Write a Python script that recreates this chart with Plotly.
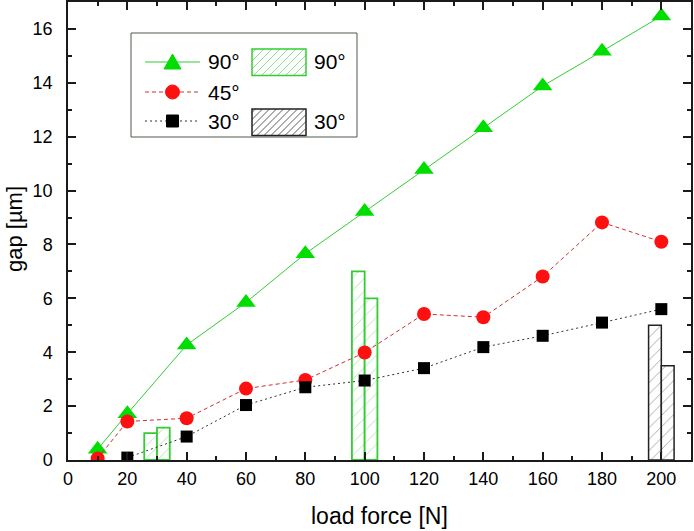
import plotly.graph_objects as go

# ---------------- data ----------------
force_90 = [10, 20, 40, 60, 80, 100, 120, 140, 160, 180, 200]
gap_90 = [0.40, 1.72, 4.27, 5.85, 7.66, 9.22, 10.78, 12.33, 13.88, 15.17, 16.48]

force_45 = [10, 20, 40, 60, 80, 100, 120, 140, 160, 180, 200]
gap_45 = [0.06, 1.43, 1.55, 2.65, 2.97, 3.99, 5.42, 5.30, 6.81, 8.82, 8.10]

force_30 = [20, 40, 60, 80, 100, 120, 140, 160, 180, 200]
gap_30 = [0.09, 0.87, 2.04, 2.70, 2.95, 3.41, 4.19, 4.61, 5.10, 5.60]

bar90_force = [30, 30, 100, 100]
bar90_gap = [1.0, 1.2, 7.0, 6.0]
bar90_side = [-1, 0, -1, 0]          # left / right bar of each pair

bar30_force = [200, 200]
bar30_gap = [5.0, 3.5]
bar30_side = [-1, 0]

x_ticks = [0, 20, 40, 60, 80, 100, 120, 140, 160, 180, 200]
y_ticks = [0, 2, 4, 6, 8, 10, 12, 14, 16]

# ---------------- styling ----------------
GREEN_M = "#00dd00"
GREEN_L = "#33cc33"
RED_M = "#ff1010"
RED_L = "#cc3030"
BLACK = "#000000"
AX = "#1a1a1a"
FONT = "Arial, Liberation Sans, sans-serif"
BAR_W = 4.3

W, H = 694, 531
PL, PR, PT, PB = 68, 691, 2, 460


def px(x):
    return (x - PL) / (PR - PL)


def py(y):
    return (PB - y) / (PB - PT)


fig = go.Figure()

fig.add_trace(go.Bar(
    x=bar90_force, y=bar90_gap, width=BAR_W,
    offset=[s * BAR_W for s in bar90_side],
    marker=dict(color="white",
                line=dict(color=GREEN_L, width=1.8),
                pattern=dict(shape="/", fgcolor="#55d055", bgcolor="white",
                             size=9, solidity=0.1)),
    showlegend=False, name="90° bars"))

fig.add_trace(go.Bar(
    x=bar30_force, y=bar30_gap, width=BAR_W,
    offset=[s * BAR_W for s in bar30_side],
    marker=dict(color="white",
                line=dict(color="#222222", width=1.5),
                pattern=dict(shape="/", fgcolor="#333333", bgcolor="white",
                             size=8, solidity=0.1)),
    showlegend=False, name="30° bars"))

fig.add_trace(go.Scatter(
    x=force_90, y=gap_90, mode="lines+markers",
    line=dict(color=GREEN_L, width=1),
    marker=dict(symbol="triangle-up", size=17, color=GREEN_M),
    showlegend=False, name="90°"))

fig.add_trace(go.Scatter(
    x=force_45, y=gap_45, mode="lines+markers",
    line=dict(color=RED_L, width=1, dash="4px,3px"),
    marker=dict(symbol="circle", size=14, color=RED_M),
    showlegend=False, name="45°"))

fig.add_trace(go.Scatter(
    x=force_30, y=gap_30, mode="lines+markers",
    line=dict(color="#333333", width=1, dash="2px,3px"),
    marker=dict(symbol="square", size=12, color=BLACK),
    showlegend=False, name="30°"))

# ---------------- custom legend ----------------
shapes = []
annotations = []

shapes.append(dict(type="rect", xref="paper", yref="paper",
                   x0=px(131), x1=px(357), y0=py(137), y1=py(33),
                   line=dict(color="#4a5a4a", width=1), fillcolor="white",
                   layer="above"))


def hatch_path(x0, y0, x1, y1, step):
    parts = []
    c = x0 + y0 + step / 2
    while c < x1 + y1:
        xa = max(x0, c - y1)
        xb = min(x1, c - y0)
        if xb > xa:
            parts.append("M%.5f,%.5f L%.5f,%.5f" % (px(xa), py(c - xa), px(xb), py(c - xb)))
        c += step
    return " ".join(parts)


rows = [62, 92, 121]
line_x0, line_x1 = 145, 200
mcx = (line_x0 + line_x1) / 2

shapes.append(dict(type="line", xref="paper", yref="paper",
                   x0=px(line_x0), x1=px(line_x1), y0=py(rows[0]), y1=py(rows[0]),
                   line=dict(color=GREEN_L, width=1)))
cy = rows[0]
shapes.append(dict(type="path", xref="paper", yref="paper",
                   path="M%.5f,%.5f L%.5f,%.5f L%.5f,%.5f Z" % (
                       px(mcx - 8.5), py(cy + 7), px(mcx + 8.5), py(cy + 7), px(mcx), py(cy - 8)),
                   fillcolor=GREEN_M, line=dict(color=GREEN_M, width=1)))
shapes.append(dict(type="line", xref="paper", yref="paper",
                   x0=px(line_x0), x1=px(line_x1), y0=py(rows[1]), y1=py(rows[1]),
                   line=dict(color=RED_L, width=1, dash="4px,3px")))
cy = rows[1]
shapes.append(dict(type="circle", xref="paper", yref="paper",
                   x0=px(mcx - 7), x1=px(mcx + 7), y0=py(cy + 7), y1=py(cy - 7),
                   fillcolor=RED_M, line=dict(color=RED_M, width=1)))
shapes.append(dict(type="line", xref="paper", yref="paper",
                   x0=px(line_x0), x1=px(line_x1), y0=py(rows[2]), y1=py(rows[2]),
                   line=dict(color="#333333", width=1, dash="2px,3px")))
cy = rows[2]
shapes.append(dict(type="rect", xref="paper", yref="paper",
                   x0=px(mcx - 6), x1=px(mcx + 6), y0=py(cy + 6), y1=py(cy - 6),
                   fillcolor=BLACK, line=dict(color=BLACK, width=1)))

for (ry0, ry1, col, hcol, step) in [(49, 75.5, GREEN_L, "#66d866", 8),
                                     (109, 135.5, "#222222", "#333333", 7)]:
    shapes.append(dict(type="path", xref="paper", yref="paper",
                       path=hatch_path(252, ry0, 306, ry1, step),
                       line=dict(color=hcol, width=0.8)))
    shapes.append(dict(type="rect", xref="paper", yref="paper",
                       x0=px(252), x1=px(306), y0=py(ry1), y1=py(ry0),
                       line=dict(color=col, width=1.5)))

for (tx, ty, txt) in [(206, rows[0], "90°"), (206, rows[1], "45°"), (206, rows[2], "30°"),
                      (312, rows[0], "90°"), (312, rows[2], "30°")]:
    annotations.append(dict(xref="paper", yref="paper", x=px(tx), y=py(ty),
                            text=txt, showarrow=False, xanchor="left", yanchor="middle",
                            font=dict(family=FONT, size=21, color="black")))

# axis titles
annotations.append(dict(xref="paper", yref="paper", x=0.5, y=py(516),
                        text="load force [N]", showarrow=False,
                        xanchor="center", yanchor="middle",
                        font=dict(family=FONT, size=23, color="black")))
annotations.append(dict(xref="paper", yref="paper", x=px(14), y=py(229),
                        text="gap [µm]", showarrow=False, textangle=-90,
                        xanchor="center", yanchor="middle",
                        font=dict(family=FONT, size=22, color="black")))

axis_common = dict(
    showline=True, linecolor=AX, linewidth=1.5, mirror="allticks",
    ticks="inside", ticklen=8, tickwidth=1.5, tickcolor=AX,
    showgrid=False, zeroline=False, automargin=False,
    tickfont=dict(family=FONT, size=18, color="black"),
)

fig.update_layout(
    width=W, height=H,
    margin=dict(l=PL, r=W - PR, t=PT, b=H - PB, autoexpand=False),
    plot_bgcolor="white", paper_bgcolor="white",
    font=dict(family=FONT, color="black"),
    showlegend=False,
    barmode="overlay",
    xaxis=dict(range=[0, 210], tickmode="array", tickvals=x_ticks,
               minor=dict(dtick=10, ticks="inside", ticklen=4, tickwidth=1.5, tickcolor=AX),
               ticklabelstandoff=2,
               **axis_common),
    yaxis=dict(range=[0, 17], tickmode="array", tickvals=y_ticks,
               minor=dict(dtick=1, ticks="inside", ticklen=4, tickwidth=1.5, tickcolor=AX),
               ticklabelstandoff=10,
               **axis_common),
    shapes=shapes,
    annotations=annotations,
)

fig.write_html(
    "out.html",
    config={"displayModeBar": False},
    post_script="document.body.style.margin='0';document.body.style.padding='0';"
                "document.body.style.overflow='hidden';",
)
